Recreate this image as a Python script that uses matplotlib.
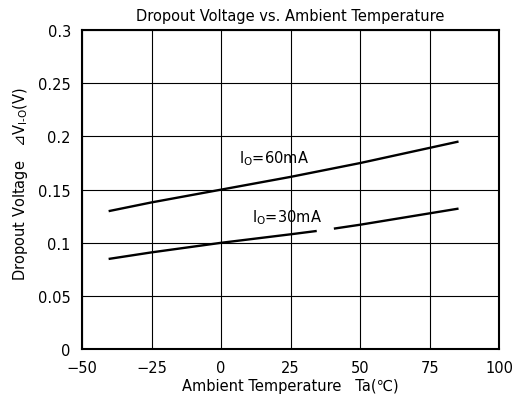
import numpy as np
import matplotlib
matplotlib.use("Agg")
import matplotlib.pyplot as plt

# curve data
temp_60 = [-40, -25, 0, 25, 50, 85]
vdrop_60 = [0.130, 0.138, 0.150, 0.162, 0.175, 0.195]

# 30mA curve has a break where the label sits
temp_30 = [-40, -25, 0, 25, 34, np.nan, 41, 50, 85]
vdrop_30 = [0.085, 0.091, 0.100, 0.108, 0.111, np.nan, 0.1135, 0.117, 0.132]

x_ticks = [-50, -25, 0, 25, 50, 75, 100]
y_ticks = [0, 0.05, 0.1, 0.15, 0.2, 0.25, 0.3]
y_labels = ["0", "0.05", "0.1", "0.15", "0.2", "0.25", "0.3"]

plt.rcParams["font.family"] = ["DejaVu Sans"]

fig = plt.figure(figsize=(5.14, 4.10), dpi=100)
ax = fig.add_axes([0.1595, 0.146, 0.8115, 0.778])

ax.plot(temp_60, vdrop_60, color="black", lw=1.7)
ax.plot(temp_30, vdrop_30, color="black", lw=1.7)

ax.text(6.5, 0.1755, r"I$_\mathrm{O}$=60mA", fontsize=10.5)
ax.text(11, 0.120, r"I$_\mathrm{O}$=30mA", fontsize=10.5)

ax.set_xlim(-50, 100)
ax.set_ylim(0, 0.3)
ax.set_xticks(x_ticks)
ax.set_yticks(y_ticks)
ax.set_yticklabels(y_labels)
ax.tick_params(length=0, labelsize=10.5, pad=8)
ax.grid(True, color="black", lw=0.8)
for s in ax.spines.values():
    s.set_linewidth(1.5)

ax.set_title("Dropout Voltage vs. Ambient Temperature", fontsize=10.5, pad=7)
ax.set_xlabel("Ambient Temperature   Ta(\u2103)", fontsize=10.5, labelpad=2)
ax.set_ylabel("Dropout Voltage   \u22bfV$_\\mathrm{I\u2010O}$(V)", fontsize=10.5, labelpad=7)
ax.yaxis.set_label_coords(-0.125, 0.52)

fig.savefig("out.png", dpi=100)
